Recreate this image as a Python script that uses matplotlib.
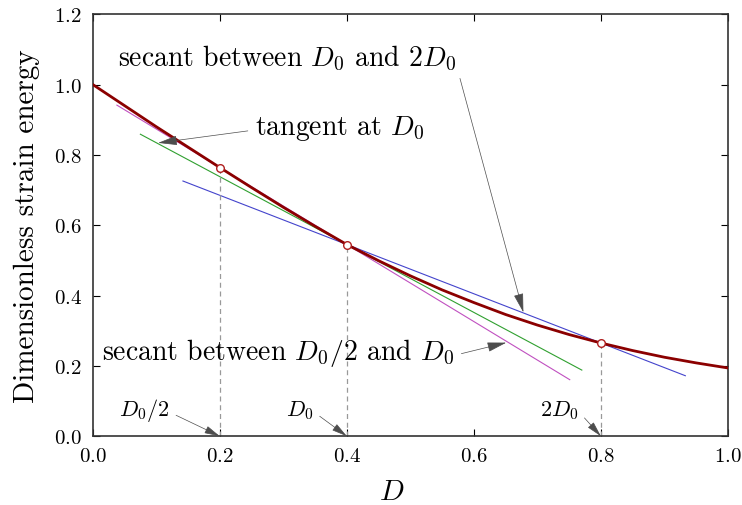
import matplotlib
matplotlib.use('Agg')
import matplotlib.pyplot as plt
import numpy as np

plt.rcParams['font.family'] = 'serif'
plt.rcParams['font.serif'] = ['cmr10']
plt.rcParams['mathtext.fontset'] = 'cm'
plt.rcParams['axes.formatter.use_mathtext'] = True

# Strain energy curve
D = [0.00, 0.05, 0.10, 0.15, 0.20, 0.25, 0.30, 0.35, 0.40, 0.45, 0.50,
     0.55, 0.60, 0.65, 0.70, 0.75, 0.80, 0.85, 0.90, 0.95, 1.00]
energy = [1.000, 0.940, 0.880, 0.822, 0.764, 0.707, 0.651, 0.597, 0.545, 0.499, 0.456,
          0.416, 0.380, 0.346, 0.316, 0.289, 0.265, 0.2435, 0.2245, 0.2084, 0.194]

D0 = 0.40
marked_D = [0.20, 0.40, 0.80]
tangent_slope = -0.965

# x extents of the three straight lines
secant_half_x = [0.038, 0.751]
tangent_x = [0.075, 0.770]
secant_double_x = [0.142, 0.933]

curve = dict(zip(D, energy))
marked_E = [curve[d] for d in marked_D]
E0 = curve[D0]
slope_half = (E0 - curve[0.20]) / (D0 - 0.20)
slope_double = (curve[0.80] - E0) / (0.80 - D0)


def line_through(xs, slope):
    xs = np.array(xs)
    return xs, E0 + slope * (xs - D0)


fig = plt.figure(figsize=(7.42, 5.06), dpi=100)
ax = fig.add_axes([0.125, 0.136, 0.856, 0.834])

for xs, slope, col in [(secant_half_x, slope_half, '#c050c0'),
                       (tangent_x, tangent_slope, '#30a030'),
                       (secant_double_x, slope_double, '#4444cc')]:
    lx, ly = line_through(xs, slope)
    ax.plot(lx, ly, color=col, lw=0.8)

ax.plot(D, energy, color='#8b0000', lw=2.0, zorder=3)
ax.vlines(marked_D, 0, marked_E, colors='0.6', linestyles=(0, (4, 3)), lw=0.9, zorder=2)
ax.plot(marked_D, marked_E, 'o', ms=5.5, mfc='white', mec='#b02020', mew=1.0, zorder=4)

arrow = dict(arrowstyle='-|>,head_length=0.6,head_width=0.15', color='0.3', lw=0.5,
             shrinkA=3, shrinkB=0)
fs = 20

ax.annotate(r'secant between $D_0$ and $2D_0$', xy=(0.678, 0.352), xytext=(0.04, 1.078),
            fontsize=fs, va='center', ha='left',
            arrowprops=dict(arrow, relpos=(1.0, 0.2)))
ax.annotate(r'tangent at $D_0$', xy=(0.103, 0.834), xytext=(0.255, 0.879),
            fontsize=fs, va='center', ha='left',
            arrowprops=dict(arrow, relpos=(0.0, 0.4)))
ax.annotate(r'secant between $D_0/2$ and $D_0$', xy=(0.651, 0.266), xytext=(0.015, 0.239),
            fontsize=fs, va='center', ha='left',
            arrowprops=dict(arrow, relpos=(1.0, 0.4)))

for label, xt, d in [(r'$D_0/2$', 0.081, 0.20), (r'$D_0$', 0.326, 0.40), (r'$2D_0$', 0.735, 0.80)]:
    ax.annotate(label, xy=(d, 0.0), xytext=(xt, 0.076), fontsize=16, ha='center', va='center',
                arrowprops=dict(arrow, relpos=(1.0, 0.4)))

ax.set_xlim(0, 1)
ax.set_ylim(0, 1.2)
ax.set_xticks(np.arange(0, 1.01, 0.2))
ax.set_yticks(np.arange(0, 1.21, 0.2))
ax.tick_params(direction='in', top=True, right=True, length=5, labelsize=15, pad=8)
for s in ax.spines.values():
    s.set_linewidth(1.2)
    s.set_color('0.2')
ax.set_xlabel(r'$D$', fontsize=21, va='baseline')
ax.xaxis.set_label_coords(0.47, -0.148)
ax.set_ylabel('Dimensionless strain energy', fontsize=21, labelpad=10)

fig.savefig('out.png', dpi=100)
